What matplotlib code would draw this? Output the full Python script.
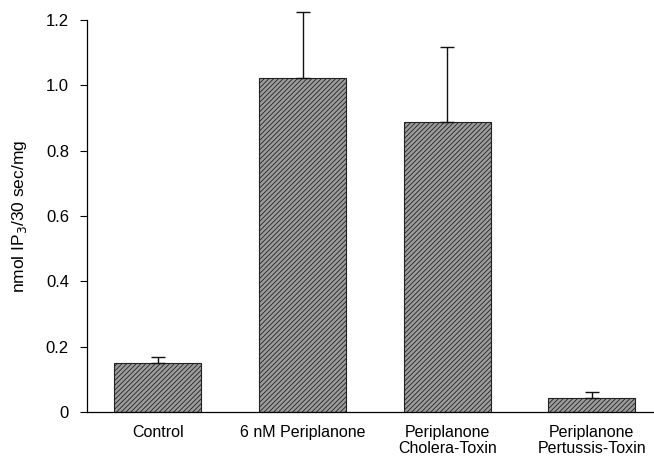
import numpy as np
import matplotlib.pyplot as plt

plt.rcParams['font.family'] = ['Liberation Sans', 'DejaVu Sans']
plt.rcParams['hatch.linewidth'] = 0.6
plt.rcParams['hatch.color'] = '#222222'

# ---------------------------------------------------------------------------
# DATA
# ---------------------------------------------------------------------------
categories = ["Control", "6 nM Periplanone", "Periplanone\nCholera-Toxin",
              "Periplanone\nPertussis-Toxin"]
ip3_values = [0.150, 1.022, 0.888, 0.043]
ip3_err = [0.018, 0.202, 0.229, 0.018]

yticks = [0, 0.2, 0.4, 0.6, 0.8, 1.0, 1.2]
ytick_labels = ["0", "0.2", "0.4", "0.6", "0.8", "1.0", "1.2"]

# ---------------------------------------------------------------------------
# PLOT
# ---------------------------------------------------------------------------
fig = plt.figure(figsize=(6.54, 4.63), dpi=100)
ax = fig.add_axes([0.133, 0.110, 0.867, 0.847])

xpos = np.arange(len(categories))
ax.bar(xpos, ip3_values, width=0.6, color='#9c9c9c', edgecolor='#222222',
       linewidth=0.8, hatch='///////', zorder=2)
ax.errorbar(xpos, ip3_values, yerr=[np.zeros(len(ip3_err)), ip3_err],
            fmt='none', ecolor='#111111', elinewidth=1.0, capsize=5,
            capthick=1.0, clip_on=False, zorder=3)

ax.set_xlim(-0.49, 3.43)
ax.set_ylim(0, 1.2)
ax.set_yticks(yticks)
ax.set_yticklabels(ytick_labels, fontsize=12)
ax.set_xticks(xpos)
ax.set_xticklabels(categories, fontsize=11.5, linespacing=1.1)
ax.tick_params(axis='x', length=0, pad=9)
ax.tick_params(axis='y', length=5, width=0.8, direction='out', pad=8)

for side in ('top', 'right'):
    ax.spines[side].set_visible(False)
ax.spines['left'].set_linewidth(0.9)
ax.spines['bottom'].set_linewidth(0.9)

ax.set_ylabel(r"nmol IP$_3$/30 sec/mg", fontsize=12.5, labelpad=12)

plt.savefig("out.png", dpi=100)
